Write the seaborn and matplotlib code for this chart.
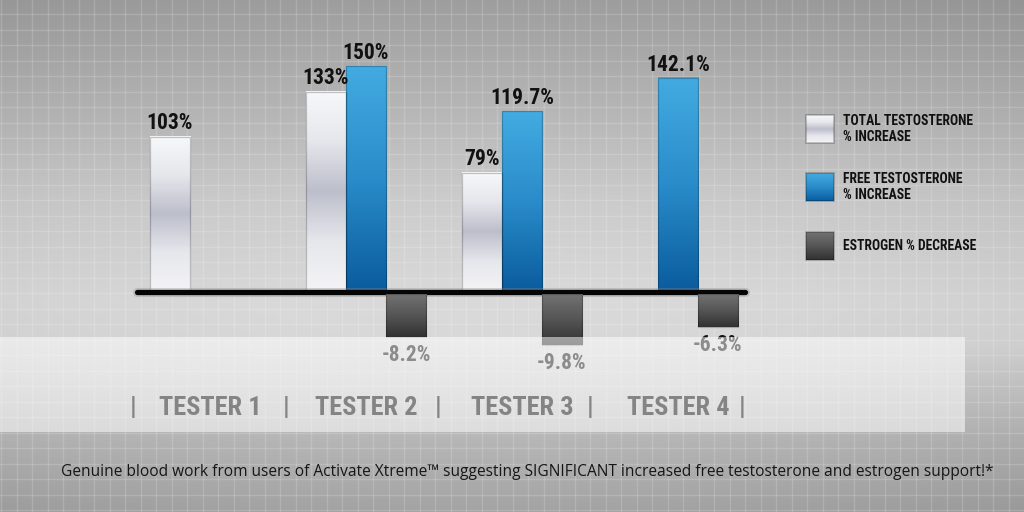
import numpy as np
import pandas as pd
import matplotlib
matplotlib.use("Agg")
import matplotlib.pyplot as plt
import seaborn as sns
from matplotlib import font_manager as fm
from matplotlib.colors import LinearSegmentedColormap, to_rgba
from matplotlib.patches import Rectangle

# ---- data -------------------------------------------------------------
testers = ["TESTER 1", "TESTER 2", "TESTER 3", "TESTER 4"]
series = ["TOTAL TESTOSTERONE\n% INCREASE",
          "FREE TESTOSTERONE\n% INCREASE",
          "ESTROGEN % DECREASE"]
total_increase = [103, 133, 79, np.nan]
free_increase = [np.nan, 150, 119.7, 142.1]
estrogen_change = [np.nan, -8.2, -9.8, -6.3]
footnote = ("Genuine blood work from users of Activate Xtreme\u2122 suggesting "
            "SIGNIFICANT increased free testosterone and estrogen support!*")

rows = []
for name, vals in zip(series, [total_increase, free_increase, estrogen_change]):
    for t, v in zip(testers, vals):
        rows.append({"tester": t, "series": name, "value": v})
df = pd.DataFrame(rows).dropna()
increase_df = df[df["series"] != series[2]]
estrogen_df = df[df["series"] == series[2]]


# ---- fonts ------------------------------------------------------------
def pick_font(*names):
    for n in names:
        try:
            fm.findfont(fm.FontProperties(family=n), fallback_to_default=False)
            return n
        except Exception:
            pass
    return "DejaVu Sans"


COND = pick_font("Liberation Sans Narrow", "Roboto Condensed", "DejaVu Sans")
BODY = pick_font("Open Sans", "Noto Sans", "DejaVu Sans")

# ---- colours / gradients ---------------------------------------------
palette = {series[0]: "#d0d2dc", series[1]: "#2080c0", series[2]: "#505050"}
gradient_stops = {
    series[0]: ["#f7f8fa", "#e6e7ec", "#bcbecb", "#e6e7ec", "#f4f4f6"],
    series[1]: ["#43abe1", "#2a8cca", "#0a5c9e"],
    series[2]: ["#727272", "#555555", "#313131"],
}


def gradient(name):
    cmap = LinearSegmentedColormap.from_list(name[:5], gradient_stops[name])
    return cmap(np.linspace(0, 1, 256)).reshape(256, 1, 4)


grads = {k: gradient(k) for k in series}

W, H = 1024, 512
fig = plt.figure(figsize=(W / 100, H / 100), dpi=100)

# ---- backdrop: grey gradient with a fine grid -------------------------
bg = fig.add_axes([0, 0, 1, 1])
yy, xx = np.mgrid[0:H, 0:W]
prof = np.interp(yy, [0, 100, 200, 300, 345, 440, 512],
                 [158, 180, 204, 218, 216, 182, 163])
prof = prof - 10 * ((xx - 470) / 560.0) ** 2
img = np.clip(prof / 255.0, 0, 1)
bg.imshow(np.dstack([img, img, img]), extent=[0, W, H, 0], aspect="auto",
          interpolation="bilinear")
for gx in np.arange(1.2, W, 15.5):
    bg.axvline(gx, color="white", alpha=0.16, lw=1.0)
for gy in np.arange(14.0, H, 15.5):
    bg.axhline(gy, color="white", alpha=0.16, lw=1.0)
bg.set_xlim(0, W)
bg.set_ylim(H, 0)
bg.axis("off")

# ---- main chart axes ---------------------------------------------------
bar_kw = dict(x="tester", y="value", hue="series", order=testers,
              hue_order=series, palette=palette, saturation=1, dodge=True,
              width=0.77, errorbar=None, legend=False)

ax = fig.add_axes([0, 0, 1, 1])
ax.patch.set_visible(False)
sns.barplot(data=increase_df, ax=ax, **bar_kw)

ax2 = ax.twinx()
ax2.patch.set_visible(False)
sns.barplot(data=estrogen_df, ax=ax2, **bar_kw)


def colour_key(patch):
    fc = to_rgba(patch.get_facecolor())
    for k, c in palette.items():
        if np.allclose(fc[:3], to_rgba(c)[:3], atol=0.02):
            return k
    return None


def paint(axis):
    for patch in list(axis.patches):
        h = patch.get_height()
        if not np.isfinite(h) or h == 0:
            continue
        key = colour_key(patch)
        if key is None:
            continue
        x0, y0, w = patch.get_x(), patch.get_y(), patch.get_width()
        lo, hi = sorted([y0, y0 + h])
        axis.imshow(grads[key], extent=[x0, x0 + w, lo, hi], aspect="auto",
                    origin="upper", interpolation="bilinear", zorder=0.9)
        patch.set_facecolor("none")
        patch.set_edgecolor((0, 0, 0, 0.22))
        patch.set_linewidth(0.9)


paint(ax)
paint(ax2)

label_kw = dict(fontsize=15.5, fontweight="bold", family=COND, color="#111111")
for c in ax.containers:
    ax.bar_label(c, fmt=lambda v: f"{v:g}%", padding=1.5, **label_kw)
for c in ax2.containers:
    ax2.bar_label(c, fmt=lambda v: f"{v:g}%", padding=5, **label_kw)

# shared zero line, drawn as a heavy black rule
ax.plot([-0.47, 3.43], [-0.6, -0.6], color="#888888", lw=6.5, alpha=0.35,
        solid_capstyle="round", zorder=3)
ax.plot([-0.47, 3.43], [-0.6, -0.6], color="#050505", lw=3.8,
        solid_capstyle="round", zorder=3.1)

# scales: 1.5 px per % for increases, ~5.2 px per % for the estrogen change
ax.set_xlim(-210 / 156, (W - 210) / 156)
ax.set_ylim(-(H - 291) / 1.5, 291 / 1.5)
ax2.set_ylim(-(H - 294) / 5.2, 294 / 5.2)
ax.axis("off")
ax2.axis("off")

# tester captions with separators
cap_kw = dict(fontsize=19, fontweight="bold", family=COND, color="#000000",
              ha="center", va="center")
cap_y = -(408 - 291) / 1.5
for i, t in enumerate(testers):
    ax.text(i, cap_y, t, **cap_kw)
for i in range(len(testers) + 1):
    ax.text(i - 0.49 - 0.025 * i, cap_y, "|", **cap_kw)

# ---- overlay: light caption band, legend and footnote -----------------
top = fig.add_axes([0, 0, 1, 1])
top.patch.set_visible(False)
top.set_xlim(0, W)
top.set_ylim(H, 0)
top.axis("off")
top.add_patch(Rectangle((0, 337), 965, 95, facecolor="white", alpha=0.52,
                        edgecolor="none"))

legend_y = [129, 187, 246]
for name, yc in zip(series, legend_y):
    top.add_patch(Rectangle((806, yc - 14), 28, 28, facecolor="none",
                            edgecolor=(0, 0, 0, 0.25), lw=1.2, zorder=3))
    top.imshow(grads[name], extent=[806, 834, yc + 14, yc - 14],
               aspect="auto", interpolation="bilinear", zorder=2)
    top.text(843, yc, name, fontsize=9.8, fontweight="bold", family=COND,
             color="#111111", va="center", ha="left", linespacing=1.25)

top.text(527, 472, footnote, fontsize=11.2, family=BODY, color="#161616",
         ha="center", va="center")

fig.savefig("out.png", dpi=100)
